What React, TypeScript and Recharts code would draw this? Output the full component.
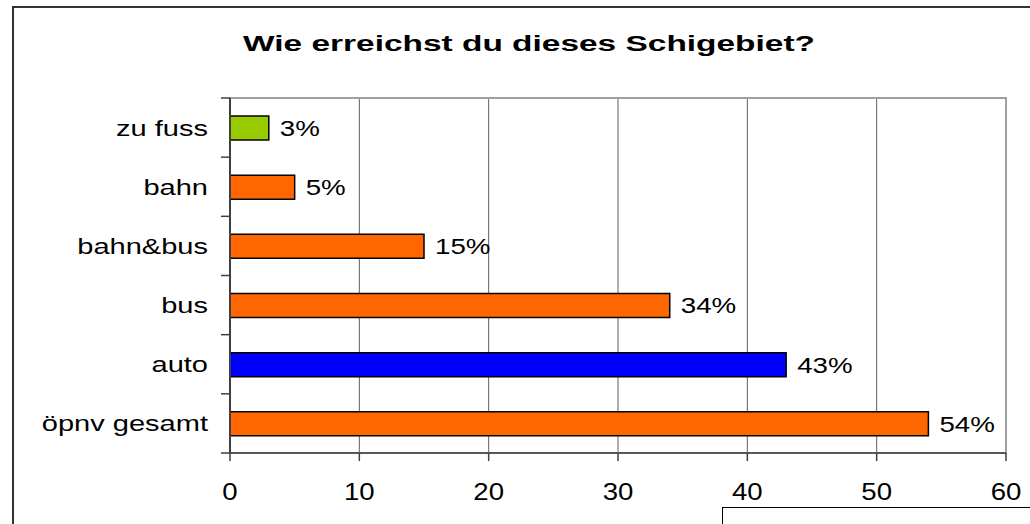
import React from "react";
import {
  BarChart,
  Bar,
  XAxis,
  YAxis,
  CartesianGrid,
  ReferenceArea,
  LabelList,
  Cell,
} from "recharts";

const categories = ["zu fuss", "bahn", "bahn&bus", "bus", "auto", "öpnv gesamt"];
const shares = [3, 5, 15, 34, 43, 54];
const barColors = ["#99CC00", "#FF6600", "#FF6600", "#FF6600", "#0000FF", "#FF6600"];
const xTicks = [0, 10, 20, 30, 40, 50, 60];

const W = 1030;
const H = 524;
const AXIS_W = 230;
const X_AXIS_H = 30;
const MARGIN = { top: 98, right: 24, bottom: 41, left: 0 };
const PLOT_H = H - MARGIN.top - MARGIN.bottom - X_AXIS_H;
const BAND = PLOT_H / categories.length;
const FONT = "'Liberation Sans', Arial, sans-serif";

const rows = categories.map((name, i) => ({ name, value: shares[i] }));

function CategoryTick(props: any) {
  const { y, index } = props;
  const last = index === categories.length - 1;
  return (
    <g>
      <line x1={AXIS_W - 9} x2={AXIS_W} y1={y - BAND / 2} y2={y - BAND / 2} stroke="#404040" strokeWidth={1.5} />
      {last && (
        <line x1={AXIS_W - 9} x2={AXIS_W} y1={y + BAND / 2} y2={y + BAND / 2} stroke="#404040" strokeWidth={1.5} />
      )}
      <g transform={`translate(${AXIS_W - 22},${y}) scale(1.32,1)`}>
        <text x={0} y={0} dy="0.36em" textAnchor="end" fontSize={22} fontFamily={FONT} fill="#000">
          {props.payload.value}
        </text>
      </g>
    </g>
  );
}

function ValueTick(props: any) {
  const { x, y, payload } = props;
  return (
    <g transform={`translate(${x},${y}) scale(1.2,1)`}>
      <text x={0} y={0} dy="0.72em" textAnchor="middle" fontSize={23} fontFamily={FONT} fill="#000">
        {payload.value}
      </text>
    </g>
  );
}

function PctLabel(props: any) {
  const { x, y, width, height, value } = props;
  return (
    <g transform={`translate(${x + width + 11},${y + height / 2}) scale(1.26,1)`}>
      <text x={0} y={0} dy="0.36em" textAnchor="start" fontSize={22} fontFamily={FONT} fill="#000">
        {value}%
      </text>
    </g>
  );
}

export default function App() {
  return (
    <div style={{ position: "absolute", left: 0, top: 0, width: W, height: H, overflow: "hidden", background: "#fff" }}>
      <div style={{ position: "absolute", left: 0, top: 0 }}>
        <BarChart width={W} height={H} data={rows} layout="vertical" margin={MARGIN} barCategoryGap={0}>
          <CartesianGrid horizontal={false} stroke="#606060" strokeWidth={1} />
          <ReferenceArea x1={0} x2={60} fill="none" stroke="#a0a0a0" strokeWidth={2} ifOverflow="visible" />
          <XAxis
            type="number"
            domain={[0, 60]}
            ticks={xTicks}
            interval={0}
            height={X_AXIS_H}
            tickSize={8}
            tickMargin={22}
            axisLine={{ stroke: "#404040", strokeWidth: 1.5 }}
            tickLine={{ stroke: "#404040", strokeWidth: 1.5 }}
            tick={<ValueTick />}
          />
          <YAxis
            type="category"
            dataKey="name"
            width={AXIS_W}
            interval={0}
            tickLine={false}
            axisLine={{ stroke: "#404040", strokeWidth: 2 }}
            tick={<CategoryTick />}
          />
          <Bar dataKey="value" barSize={24} stroke="#000" strokeWidth={1.5} isAnimationActive={false}>
            {rows.map((r, i) => (
              <Cell key={r.name} fill={barColors[i]} />
            ))}
            <LabelList dataKey="value" content={<PctLabel />} />
          </Bar>
        </BarChart>
      </div>
      <svg width={W} height={H} style={{ position: "absolute", left: 0, top: 0, pointerEvents: "none" }}>
        <rect x={13} y={7} width={1100} height={600} fill="none" stroke="#333" strokeWidth={2} />
        <rect x={722.5} y={507.5} width={400} height={100} fill="none" stroke="#000" strokeWidth={1} />
        <g transform="translate(529,51) scale(1.52,1)">
          <text x={0} y={0} textAnchor="middle" fontSize={22} fontWeight="bold" fontFamily={FONT} fill="#000">
            Wie erreichst du dieses Schigebiet?
          </text>
        </g>
      </svg>
    </div>
  );
}
